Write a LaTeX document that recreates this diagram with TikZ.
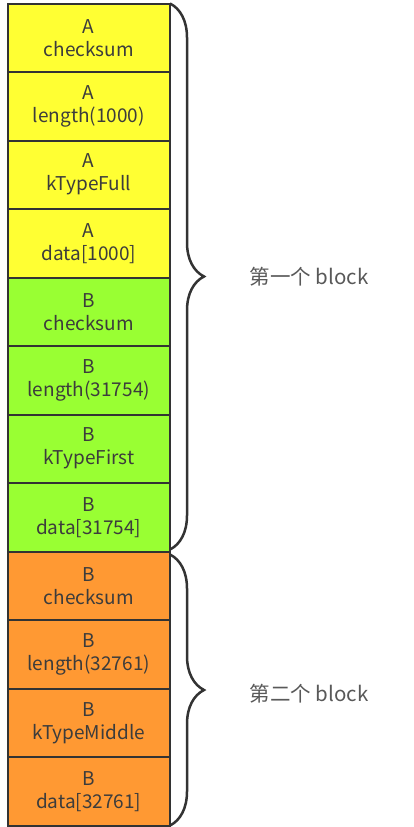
\documentclass[tikz,border=0pt]{standalone}
\usepackage{fontspec}
\setmainfont{Noto Sans CJK SC}
\usepackage{xcolor}
\usetikzlibrary{positioning,decorations.pathreplacing}

\definecolor{blockA}{HTML}{FFFF33}
\definecolor{blockB}{HTML}{99FF33}
\definecolor{blockC}{HTML}{FF9933}
\definecolor{edge}{HTML}{333333}
\definecolor{ink}{HTML}{3C3C3C}

\begin{document}
\begin{tikzpicture}[x=1pt, y=1pt, node distance=0pt,
    field/.style={draw=edge, line width=2pt, outer sep=0pt, inner sep=0pt, minimum width=162.5pt, minimum height=68.5pt, align=center, text=ink, font=\fontsize{19}{23}\selectfont},
    blockbrace/.style={decorate, decoration={brace, amplitude=34pt}, draw=edge, line width=2.5pt},
    blocklabel/.style={text=ink!85, font=\fontsize{20.5}{24}\selectfont}]
        \useasboundingbox (0,0) rectangle (413,-827);

        % first record: A, one full record
        \node[field, fill=blockA, anchor=north west] (a1) at (7.5,-3.5) {A\\checksum};
        \node[field, fill=blockA, below=of a1] (a2) {A\\length(1000)};
        \node[field, fill=blockA, below=of a2] (a3) {A\\kTypeFull};
        \node[field, fill=blockA, below=of a3] (a4) {A\\data[1000]};

        % second record: B, first fragment
        \node[field, fill=blockB, below=of a4] (b1) {B\\checksum};
        \node[field, fill=blockB, below=of b1] (b2) {B\\length(31754)};
        \node[field, fill=blockB, below=of b2] (b3) {B\\kTypeFirst};
        \node[field, fill=blockB, below=of b3] (b4) {B\\data[31754]};

        % third record: B, middle fragment
        \node[field, fill=blockC, below=of b4] (c1) {B\\checksum};
        \node[field, fill=blockC, below=of c1] (c2) {B\\length(32761)};
        \node[field, fill=blockC, below=of c2] (c3) {B\\kTypeMiddle};
        \node[field, fill=blockC, below=of c3] (c4) {B\\data[32761]};

        % Braces
        \draw[blockbrace] (a1.north east) -- node[blocklabel, right=75pt] (blk1) {第一个 block} ([yshift=2pt]b4.south east);
        \draw[blockbrace] ([yshift=-3pt]c1.north east) -- node[blocklabel, right=75pt, yshift=-4pt] (blk2) {第二个 block} (c4.south east);
    \end{tikzpicture}
\end{document}
